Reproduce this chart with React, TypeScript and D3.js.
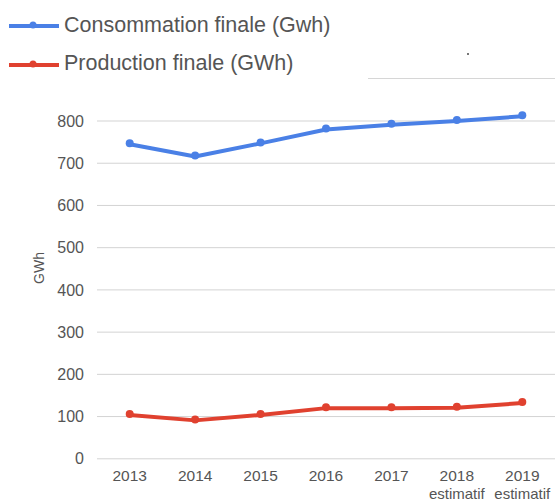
import React from "react";
import * as d3 from "d3";

const years = ["2013", "2014", "2015", "2016", "2017", "2018", "2019"];
const yearNotes = ["", "", "", "", "", "estimatif", "estimatif"];
const consommation = [745, 716, 747, 780, 791, 800, 811];
const production = [104, 91, 104, 120, 120, 121, 132];
const yTicks = [0, 100, 200, 300, 400, 500, 600, 700, 800];
const seriesNames = ["Consommation finale (Gwh)", "Production finale (GWh)"];
const yTitle = "GWh";

const W = 555;
const H = 500;
const BLUE = "#4a80e6";
const RED = "#e0412f";
const TEXT = "#555";
const FONT = "'Liberation Sans', Arial, sans-serif";

export default function App() {
  const x = d3.scaleBand<string>().domain(years).range([97, 555]);
  const y = d3.scaleLinear().domain([0, 800]).range([458.8, 121]);
  const cx = (d: string) => (x(d) as number) + x.bandwidth() / 2;

  const line = d3
    .line<number>()
    .x((_, i) => cx(years[i]))
    .y((v) => y(v));

  const series = [
    { name: seriesNames[0], values: consommation, color: BLUE },
    { name: seriesNames[1], values: production, color: RED },
  ];

  return (
    <svg
      width={W}
      height={H}
      style={{ position: "absolute", left: 0, top: 0, background: "#fff" }}
      fontFamily={FONT}
    >
      {/* legend */}
      {series.map((s, i) => {
        const ly = i === 0 ? 26 : 65;
        const by = i === 0 ? 32 : 70;
        return (
          <g key={s.name}>
            <line x1={9} x2={59} y1={ly} y2={ly} stroke={s.color} strokeWidth={4} />
            <circle cx={33} cy={ly - 1} r={3.5} fill={s.color} />
            <text x={64} y={by} fontSize={21.5} fill={TEXT}>
              {s.name}
            </text>
          </g>
        );
      })}

      {/* stray decoration from original crop */}
      <line x1={368} x2={555} y1={78.5} y2={78.5} stroke="#d6d6d6" strokeWidth={1} />
      <rect x={467} y={53} width={2} height={2} fill="#777" />

      {/* gridlines and y ticks */}
      {yTicks.map((t) => (
        <g key={t}>
          <line x1={97} x2={555} y1={y(t)} y2={y(t)} stroke="#d3d3d3" strokeWidth={1} />
          <text
            x={84}
            y={y(t)}
            dy="0.35em"
            textAnchor="end"
            fontSize={16}
            fill={TEXT}
          >
            {t}
          </text>
        </g>
      ))}

      {/* y title */}
      <text
        transform={`translate(44, 268) rotate(-90)`}
        textAnchor="middle"
        fontSize={14}
        fill={TEXT}
      >
        {yTitle}
      </text>

      {/* x labels */}
      {years.map((yr, i) => (
        <g key={yr}>
          <text x={cx(yr)} y={481} textAnchor="middle" fontSize={15.5} fill={TEXT}>
            {yr}
          </text>
          {yearNotes[i] && (
            <text x={cx(yr)} y={498.5} textAnchor="middle" fontSize={15} fill={TEXT}>
              {yearNotes[i]}
            </text>
          )}
        </g>
      ))}

      {/* series */}
      {series.map((s) => (
        <g key={s.name}>
          <path
            d={line(s.values) || ""}
            fill="none"
            stroke={s.color}
            strokeWidth={4}
            strokeLinejoin="round"
          />
          {s.values.map((v, i) => (
            <circle key={i} cx={cx(years[i])} cy={y(v) - 1} r={4} fill={s.color} />
          ))}
        </g>
      ))}
    </svg>
  );
}
